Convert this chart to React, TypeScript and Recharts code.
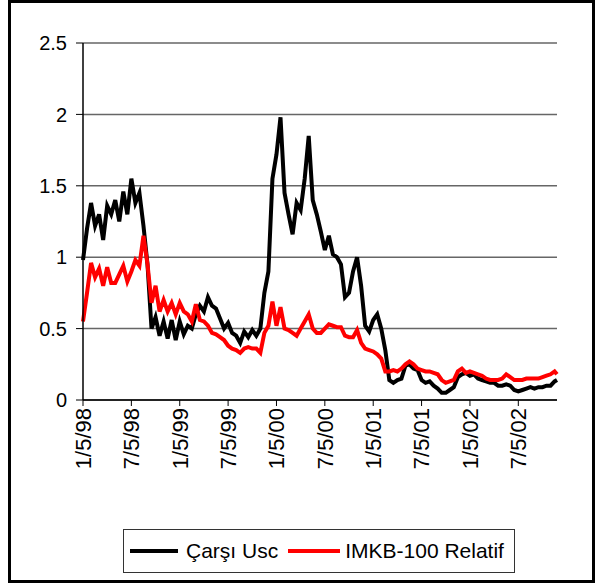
import { LineChart, Line, XAxis, YAxis, CartesianGrid } from "recharts";

// months after 1/5/98
const months = [
  0, 0.5, 1, 1.5, 2, 2.5, 3, 3.5, 4, 4.5,
  5, 5.5, 6, 6.5, 7, 7.5, 8, 8.5, 9, 9.5,
  10, 10.5, 11, 11.5, 12, 12.5, 13, 13.5, 14, 14.5,
  15, 15.5, 16, 16.5, 17, 17.5, 18, 18.5, 19, 19.5,
  20, 20.5, 21, 21.5, 22, 22.5, 23, 23.5, 24, 24.5,
  25, 25.5, 26, 26.5, 27, 27.5, 28, 28.5, 29, 29.5,
  30, 30.5, 31, 31.5, 32, 32.5, 33, 33.5, 34, 34.5,
  35, 35.5, 36, 36.5, 37, 37.5, 38, 38.5, 39, 39.5,
  40, 40.5, 41, 41.5, 42, 42.5, 43, 43.5, 44, 44.5,
  45, 45.5, 46, 46.5, 47, 47.5, 48, 48.5, 49, 49.5,
  50, 50.5, 51, 51.5, 52, 52.5, 53, 53.5, 54, 54.5,
  55, 55.5, 56, 56.5, 57, 57.5, 58, 58.5,
  58.8,
];

const carsiUsc = [
  0.98, 1.2, 1.38, 1.22, 1.3, 1.12, 1.36, 1.3, 1.4, 1.25,
  1.46, 1.3, 1.55, 1.38, 1.45, 1.22, 0.95, 0.5, 0.58, 0.45,
  0.55, 0.43, 0.56, 0.42, 0.55, 0.46, 0.52, 0.5, 0.6, 0.66,
  0.62, 0.72, 0.66, 0.64, 0.57, 0.5, 0.54, 0.47, 0.45, 0.4,
  0.48, 0.44, 0.49, 0.45, 0.5, 0.75, 0.9, 1.55, 1.72, 1.98,
  1.45, 1.3, 1.16, 1.38, 1.33, 1.55, 1.85, 1.4, 1.3, 1.18,
  1.05, 1.15, 1.02, 1.0, 0.95, 0.72, 0.75, 0.9, 1.0, 0.8,
  0.52, 0.48, 0.56, 0.6, 0.5, 0.35, 0.14, 0.12, 0.14, 0.15,
  0.24, 0.25, 0.22, 0.21, 0.14, 0.12, 0.13, 0.1, 0.08, 0.05,
  0.05, 0.07, 0.09, 0.16, 0.18, 0.19, 0.17, 0.18, 0.15, 0.14,
  0.13, 0.12, 0.12, 0.1, 0.1, 0.11, 0.1, 0.07, 0.06, 0.07,
  0.08, 0.09, 0.08, 0.09, 0.09, 0.1, 0.1, 0.13,
  0.14,
];

const imkb100 = [
  0.55, 0.75, 0.96, 0.86, 0.92, 0.8, 0.93, 0.82, 0.82, 0.88,
  0.94, 0.83, 0.9, 0.98, 0.94, 1.15, 0.95, 0.68, 0.8, 0.62,
  0.7, 0.62, 0.68, 0.6, 0.68, 0.62, 0.6, 0.55, 0.67, 0.56,
  0.55, 0.52, 0.47, 0.46, 0.44, 0.42, 0.38, 0.36, 0.35, 0.33,
  0.36, 0.37, 0.36, 0.36, 0.33, 0.47, 0.52, 0.69, 0.52, 0.65,
  0.5, 0.49, 0.47, 0.45, 0.5, 0.55, 0.6, 0.5, 0.47, 0.47,
  0.5, 0.53, 0.52, 0.51, 0.51, 0.45, 0.44, 0.44, 0.49, 0.4,
  0.36, 0.35, 0.34, 0.32, 0.29, 0.2, 0.2, 0.21, 0.2, 0.22,
  0.25, 0.27, 0.25, 0.22, 0.21, 0.2, 0.2, 0.19, 0.18, 0.14,
  0.12, 0.13, 0.14, 0.2, 0.22, 0.19, 0.2, 0.19, 0.18, 0.17,
  0.15, 0.14, 0.14, 0.14, 0.15, 0.18, 0.16, 0.14, 0.14, 0.14,
  0.15, 0.15, 0.15, 0.15, 0.16, 0.17, 0.18, 0.2,
  0.18,
];

const tickMonths = [0, 6, 12, 18, 24, 30, 36, 42, 48, 54];
const tickLabels = ["1/5/98", "7/5/98", "1/5/99", "7/5/99", "1/5/00", "7/5/00", "1/5/01", "7/5/01", "1/5/02", "7/5/02"];
const yTicks = [0, 0.5, 1, 1.5, 2, 2.5];

const data = months.map((m, i) => ({ m, carsi: carsiUsc[i], imkb: imkb100[i] }));

const font = '"Liberation Sans", Arial, sans-serif';

function DateTick({ x, y, payload }: any) {
  const label = tickLabels[tickMonths.indexOf(payload.value)];
  return (
    <text
      x={x}
      y={y}
      transform={`rotate(-90, ${x}, ${y})`}
      textAnchor="end"
      dy="0.36em"
      fontSize={22}
      fontFamily={font}
      fill="#000"
    >
      {label}
    </text>
  );
}

export default function App() {
  return (
    <div style={{ position: "absolute", left: 0, top: 0, width: 595, height: 583, background: "#fff", fontFamily: font }}>
      <div
        style={{
          position: "absolute",
          left: 8,
          top: 0,
          width: 587,
          height: 583,
          border: "3px solid #000",
          boxSizing: "border-box",
        }}
      />
      <div style={{ position: "absolute", left: 0, top: 0 }}>
        <LineChart width={595} height={583} data={data} margin={{ top: 43, right: 38, left: 23, bottom: 103 }}>
          <CartesianGrid vertical={false} stroke="#666" strokeWidth={1.5} />
          <XAxis
            dataKey="m"
            type="number"
            domain={[0, 58.8]}
            ticks={tickMonths}
            interval={0}
            height={80}
            tickSize={6}
            tickMargin={2}
            axisLine={{ stroke: "#000", strokeWidth: 1.5 }}
            tickLine={{ stroke: "#000" }}
            tick={<DateTick />}
          />
          <YAxis
            domain={[0, 2.5]}
            ticks={yTicks}
            width={60}
            tickSize={7}
            tickMargin={9}
            axisLine={{ stroke: "#000", strokeWidth: 1.5 }}
            tickLine={{ stroke: "#000" }}
            tick={{ fontSize: 20, fill: "#000", fontFamily: font }}
          />
          <YAxis
            yAxisId="frame"
            orientation="right"
            domain={[0, 2.5]}
            width={0}
            tick={false}
            tickLine={false}
            axisLine={{ stroke: "#808080", strokeWidth: 1.5 }}
          />
          <Line
            type="linear"
            dataKey="carsi"
            stroke="#000"
            strokeWidth={4}
            strokeLinejoin="miter"
            dot={false}
            isAnimationActive={false}
          />
          <Line
            type="linear"
            dataKey="imkb"
            stroke="#ff0000"
            strokeWidth={4}
            strokeLinejoin="miter"
            dot={false}
            isAnimationActive={false}
          />
        </LineChart>
      </div>
      <div
        style={{
          position: "absolute",
          left: 123,
          top: 529,
          width: 392,
          height: 44,
          border: "1px solid #333",
          boxSizing: "border-box",
          display: "flex",
          alignItems: "center",
          fontSize: 21,
          color: "#000",
          whiteSpace: "nowrap",
        }}
      >
        <span style={{ display: "inline-block", width: 48, height: 4, background: "#000", marginLeft: 6, marginRight: 8 }} />
        <span>Çarşı Usc</span>
        <span style={{ display: "inline-block", width: 52, height: 4, background: "#ff0000", marginLeft: 10, marginRight: 5 }} />
        <span>IMKB-100 Relatif</span>
      </div>
    </div>
  );
}
